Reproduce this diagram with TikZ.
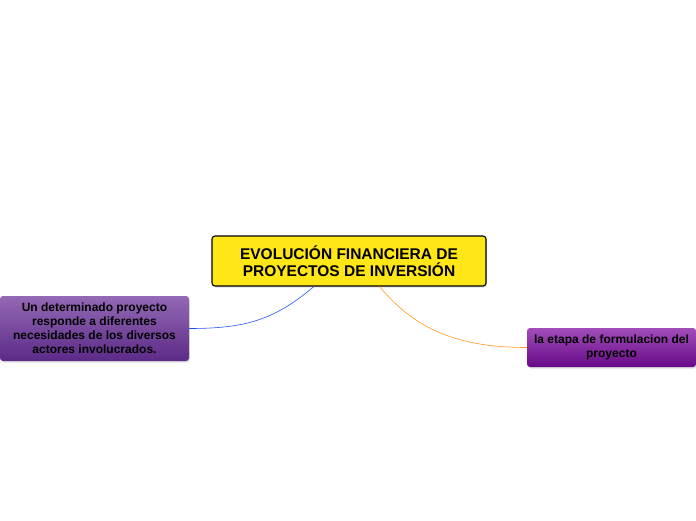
\documentclass[tikz,border=0pt]{standalone}
\usepackage{fontspec}
\setmainfont{Liberation Sans}
\usepackage{xcolor}
\usetikzlibrary{positioning,shadows}

\definecolor{mainyel}{HTML}{FFE617}
\definecolor{lefttop}{HTML}{9469B5}
\definecolor{leftbot}{HTML}{5B2A87}
\definecolor{righttop}{HTML}{A24DBA}
\definecolor{rightbot}{HTML}{680A88}
\definecolor{linkblue}{HTML}{2255EE}
\definecolor{linkorange}{HTML}{FF9A1A}

\begin{document}
\begin{tikzpicture}[x=1pt,y=-1pt,
  topic/.style={rectangle,rounded corners=3pt,align=center,inner sep=0pt,
    drop shadow={shadow xshift=1pt,shadow yshift=-1.5pt,opacity=0.25}},
  central/.style={topic,draw=black,line width=1.1pt,fill=mainyel,
    minimum width=274pt,minimum height=50pt,
    font=\fontsize{15.5}{17}\selectfont\bfseries},
  sub/.style={topic,draw=none,minimum width=#1,
    font=\fontsize{12}{14}\selectfont\bfseries},
  link/.style={line width=0.6pt}]
\useasboundingbox (0,0) rectangle (696,520);
% main topic
\node[central] (evol) at (349,261) {EVOLUCIÓN FINANCIERA DE\\ PROYECTOS DE INVERSIÓN};
% subtopics
\node[sub=189pt,minimum height=65pt,top color=lefttop,bottom color=leftbot]
  (actores) at (94.5,328.5) {Un determinado proyecto\\ responde a diferentes\\ necesidades de los diversos\\ actores involucrados.};
\node[sub=169pt,minimum height=39pt,top color=righttop,bottom color=rightbot]
  (etapa) at (611.5,347.5) {la etapa de formulacion del\\ proyecto};
% connectors
\draw[link,linkblue] (evol.216) .. controls +(-40,34) and +(55,0) .. (actores.east);
\draw[link,linkorange] (evol.-40) .. controls +(35,42) and +(-70,0) .. (etapa.west);
\end{tikzpicture}
\end{document}
